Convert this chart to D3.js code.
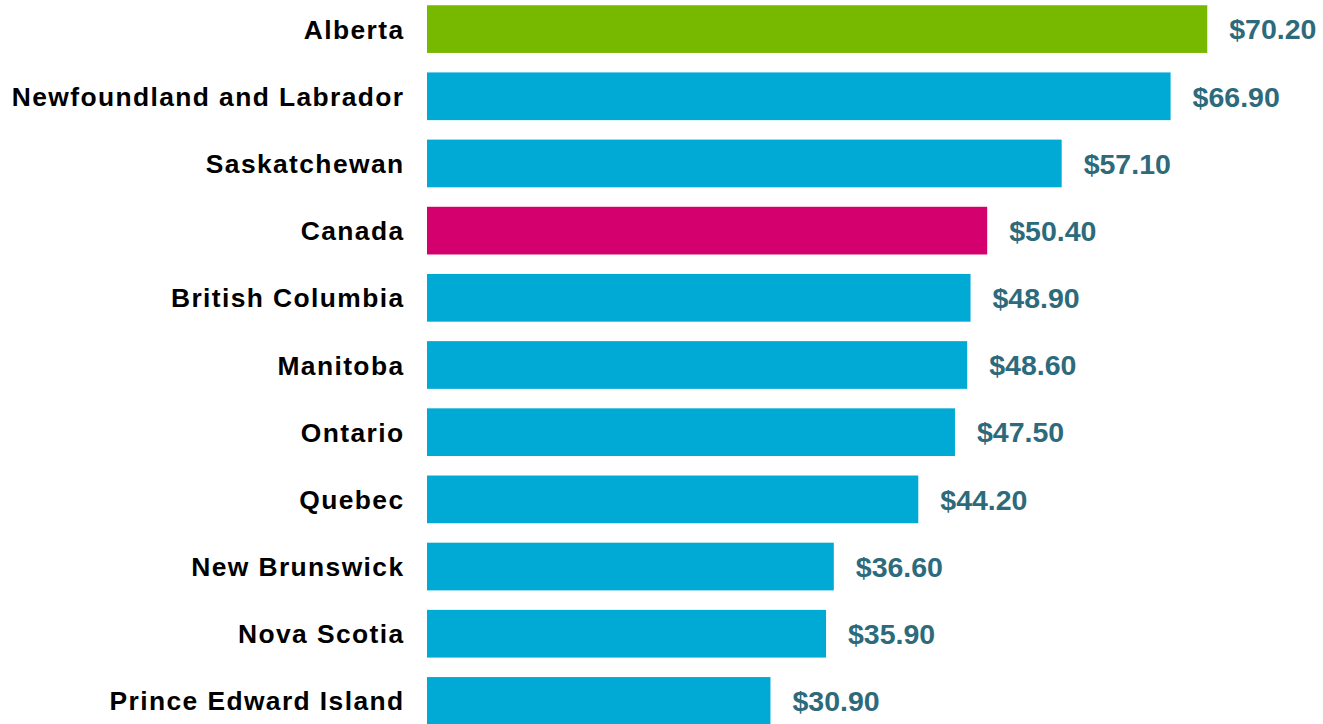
<!DOCTYPE html>
<html><head><meta charset="utf-8">
<script src="https://cdn.jsdelivr.net/npm/d3@7"></script>
<style>body{margin:0;background:#fff}</style>
</head><body>
<svg id="chart" width="1323" height="724"></svg>
<script>
const categories = ["Alberta","Newfoundland and Labrador","Saskatchewan","Canada","British Columbia","Manitoba","Ontario","Quebec","New Brunswick","Nova Scotia","Prince Edward Island"];
const values = [70.2,66.9,57.1,50.4,48.9,48.6,47.5,44.2,36.6,35.9,30.9];
const highlight = {"Alberta":"#76b900","Canada":"#d4006e"};
const baseColor = "#00aad5";

const svg = d3.select("#chart");
const x0 = 427, pxPerUnit = 11.115;
const x = d3.scaleLinear().domain([0, 70.2]).range([x0, x0 + 70.2*pxPerUnit]);
const y = d3.scaleBand().domain(categories).range([-4.5, 734.5]).paddingInner(0.29).paddingOuter(0.145);

svg.selectAll("rect.bar").data(categories).join("rect")
  .attr("x", x(0)).attr("y", d => y(d))
  .attr("width", (d,i) => x(values[i]) - x(0))
  .attr("height", y.bandwidth())
  .attr("fill", d => highlight[d] || baseColor);

svg.selectAll("text.cat").data(categories).join("text")
  .attr("class","cat")
  .attr("x", 404.5).attr("y", d => y(d) + y.bandwidth()/2)
  .attr("dy","0.36em").attr("text-anchor","end")
  .style("font-family","'Liberation Sans', Arial, sans-serif")
  .style("font-weight","bold").style("font-size","26.4px")
  .style("letter-spacing","1.4px")
  .attr("fill","#000").text(d => d);

svg.selectAll("text.val").data(categories).join("text")
  .attr("class","val")
  .attr("x", (d,i) => x(values[i]) + 22).attr("y", d => y(d) + y.bandwidth()/2)
  .attr("dy","0.36em")
  .style("font-family","'Liberation Sans', Arial, sans-serif")
  .style("font-weight","bold").style("font-size","28.5px")
  .attr("fill","#2d6a7b").text((d,i) => "$" + values[i].toFixed(2));
</script>
</body></html>
